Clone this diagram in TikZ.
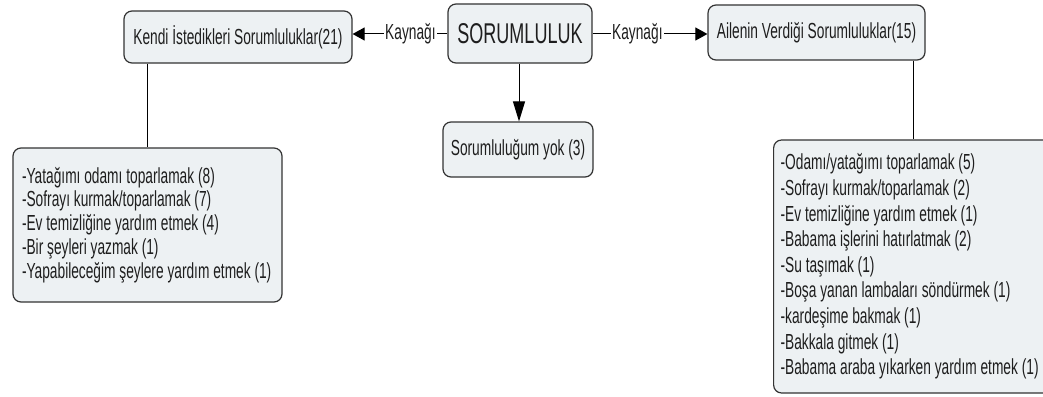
\documentclass[tikz,border=0pt]{standalone}
\usepackage{fontspec}
\setmainfont[FakeStretch=0.63]{Liberation Sans}
\usetikzlibrary{arrows.meta}
\definecolor{boxfill}{HTML}{EDF1F3}
\definecolor{boxline}{HTML}{333333}
\definecolor{txt}{HTML}{1E1E1E}
\tikzset{
  rbox/.style={draw=boxline, fill=boxfill, line width=1.2pt, rounded corners=8pt,
    inner sep=0pt, align=center, text=txt, font=\fontsize{21.8}{25}\selectfont},
  listbox/.style={draw=boxline, fill=boxfill, line width=1.2pt, rounded corners=8pt,
    inner xsep=8pt, inner ysep=0pt, align=flush left, text=txt},
  conn/.style={draw=black, line width=1pt},
  arr/.style={conn, -{Triangle[length=12pt,width=13pt]}},
  downarr/.style={conn, -{Triangle[length=20pt,width=12pt]}},
  lbl/.style={fill=white, inner xsep=1.5pt, inner ysep=1pt, text=txt, font=\fontsize{21.8}{25}\selectfont}
}
\begin{document}
\begin{tikzpicture}[x=1pt,y=-1pt]
\useasboundingbox (0,0) rectangle (1043,396);
\fill[white] (0,0) rectangle (1043,396);
\node[rbox, minimum width=228pt, minimum height=52pt] (kendi) at (238,37) {Kendi İstedikleri Sorumluluklar(21)};
\node[rbox, minimum width=144pt, minimum height=59pt, font=\fontsize{28.6}{30}\selectfont] (sor) at (520,33.5) {SORUMLULUK};
\node[rbox, minimum width=217pt, minimum height=55pt] (aile) at (816.5,32.5) {Ailenin Verdiği Sorumluluklar(15)};
\node[rbox, minimum width=150pt, minimum height=55pt] (yok) at (518,149.5) {Sorumluluğum yok (3)};
\node[listbox, inner xsep=9pt, text width=251pt, minimum height=154pt, font=\fontsize{21.8}{23.8}\selectfont] (ll) at (147.5,225) {-Yatağımı odamı toparlamak (8)\\
-Sofrayı kurmak/toparlamak (7)\\
-Ev temizliğine yardım etmek (4)\\
-Bir şeyleri yazmak (1)\\
-Yapabileceğim şeylere yardım etmek (1)};
\node[listbox, anchor=west, inner xsep=7pt, text width=272pt, minimum height=253pt, font=\fontsize{21.8}{25.6}\selectfont] (rl) at (773,266.5) {-Odamı/yatağımı toparlamak (5)\\
-Sofrayı kurmak/toparlamak (2)\\
-Ev temizliğine yardım etmek (1)\\
-Babama işlerini hatırlatmak (2)\\
-Su taşımak (1)\\
-Boşa yanan lambaları söndürmek (1)\\
-kardeşime bakmak (1)\\
-Bakkala gitmek (1)\\
-Babama araba yıkarken yardım etmek (1)};
\draw[arr] (sor.west |- 0,34) -- (kendi.east |- 0,34) node[lbl, pos=0.39] {Kaynağı};
\draw[arr] (sor.east |- 0,34) -- (aile.west |- 0,34) node[lbl, pos=0.39] {Kaynağı};
\draw[downarr] (sor.south -| 519,0) -- (yok.north -| 519,0);
\draw[conn] (kendi.south -| ll.north) -- (ll.north);
\draw[conn] (aile.south -| 913,0) -- (rl.north -| 913,0);
\end{tikzpicture}
\end{document}
